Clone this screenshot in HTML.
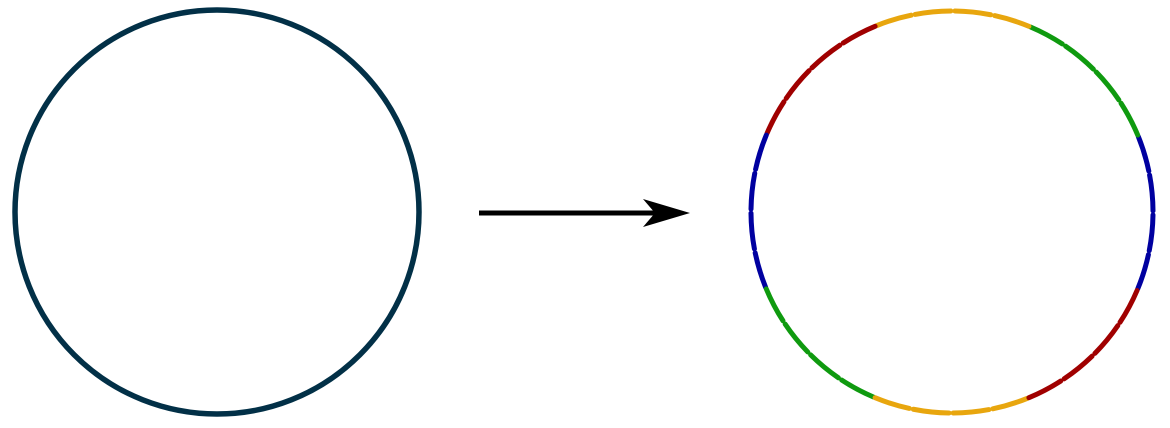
<!DOCTYPE html>
<html><head><meta charset="utf-8"><style>
html,body{margin:0;padding:0;background:#fff;width:1170px;height:428px;overflow:hidden}
svg{display:block}
</style></head><body>
<svg id="fig" width="1170" height="428" viewBox="0 0 1170 428">
  <circle cx="217" cy="212" r="202" fill="none" stroke="#023047" stroke-width="5.5"/>
  <g>
    <line x1="479" y1="213" x2="660" y2="213" stroke="#000" stroke-width="5"/>
    <polygon points="690,213 643,199 655,213 643,227" fill="#000"/>
  </g>
  <g id="segs"></g>
</svg>
<script>
const arcColors = ["#0000a0","#0f9a0f","#e8a60e","#a00000","#0000a0","#0f9a0f","#e8a60e","#a00000"];
const arcStarts = [-22.5,22.5,67.5,112.5,157.5,202.5,247.5,292.5];
const arcSpan = 45;
const cx = 952, cy = 212, R = 201;
const g = document.getElementById('segs');
function pt(a){const r=a*Math.PI/180;return [cx+R*Math.cos(r), cy-R*Math.sin(r)];}
arcStarts.forEach((s,i)=>{
  const p0=pt(s), p1=pt(s+arcSpan);
  const p=document.createElementNS('http://www.w3.org/2000/svg','path');
  p.setAttribute('d',`M${p0[0]},${p0[1]} A${R},${R} 0 0 0 ${p1[0]},${p1[1]}`);
  p.setAttribute('fill','none');
  p.setAttribute('stroke',arcColors[i]);
  p.setAttribute('stroke-width','5');
  p.setAttribute('stroke-linecap','round');
  p.setAttribute('stroke-dasharray','36 4');
  
  
  g.appendChild(p);
});
</script>
</body></html>
